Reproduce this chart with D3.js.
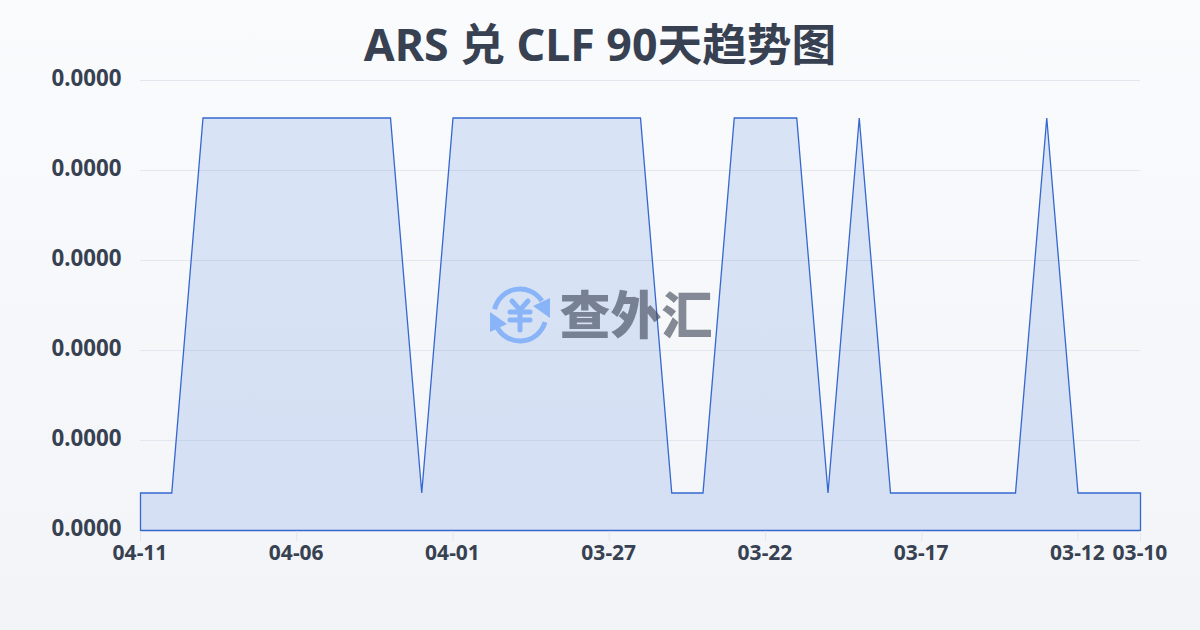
<!DOCTYPE html>
<html><head><meta charset="utf-8">
<script src="https://cdn.jsdelivr.net/npm/d3@7"></script>
<style>html,body{margin:0;padding:0;width:1200px;height:630px;overflow:hidden}svg{display:block}</style>
</head><body><svg id="c" width="1200" height="630"></svg>
<script>
const titleText = "ARS 兑 CLF 90天趋势图";
const watermarkText = "查外汇";
const dates = ["04-11","04-10","04-09","04-08","04-07","04-06","04-05","04-04","04-03","04-02","04-01","03-31","03-30","03-29","03-28","03-27","03-26","03-25","03-24","03-23","03-22","03-21","03-20","03-19","03-18","03-17","03-16","03-15","03-14","03-13","03-12","03-11","03-10"];
const rates = [1,1,11,11,11,11,11,11,11,1,11,11,11,11,11,11,11,1,1,11,11,11,1,11,1,1,1,1,1,11,1,1,1];
const xTickLabels = ["04-11","04-06","04-01","03-27","03-22","03-17","03-12","03-10"];
const yTicks = [0,2.4,4.8,7.2,9.6,12];
const yLabel = "0.0000";

const svg = d3.select("#c");
const defs = svg.append("defs");
const g = defs.append("linearGradient").attr("id","bg").attr("x1",0).attr("y1",0).attr("x2",0).attr("y2",1);
g.append("stop").attr("offset",0).attr("stop-color","#f9fbfd");
g.append("stop").attr("offset",1).attr("stop-color","#f2f4f7");
svg.append("rect").attr("width",1200).attr("height",630).attr("fill","url(#bg)");

const x = d3.scalePoint().domain(dates).range([140.5,1140.5]);
const y = d3.scaleLinear().domain([0,12]).range([530.5,80.5]);

svg.append("g").selectAll("line").data(yTicks.slice(1)).join("line")
  .attr("x1",140).attr("x2",1140).attr("y1",d=>Math.floor(y(d))+.5).attr("y2",d=>Math.floor(y(d))+.5)
  .attr("stroke","#e3e6ec").attr("stroke-width",1);

svg.append("path").datum(rates)
  .attr("d",d3.area().x((d,i)=>x(dates[i])).y0(y(0)).y1(d=>y(d)))
  .attr("fill","#3b71db").attr("fill-opacity",.16);
svg.append("path").datum(rates)
  .attr("d",d3.area().x((d,i)=>x(dates[i])).y0(y(0)).y1(d=>y(d)))
  .attr("fill","none").attr("stroke","#3568cf").attr("stroke-width",1.3);

const font = "'Noto Sans','Noto Sans CJK SC',sans-serif";
svg.append("g").selectAll("line").data(xTickLabels).join("line")
  .attr("x1",d=>x(d)).attr("x2",d=>x(d)).attr("y1",531).attr("y2",541)
  .attr("stroke","#e3e6ec");
svg.append("g").selectAll("text").data(xTickLabels).join("text")
  .attr("x",d=>x(d)-.5).attr("y",560).attr("text-anchor","middle")
  .attr("font-family",font).attr("font-weight",700).attr("font-size",21).attr("fill","#374151").text(d=>d);
svg.append("g").selectAll("text").data(yTicks).join("text")
  .attr("x",121.5).attr("y",d=>y(d)+5.5).attr("text-anchor","end")
  .attr("font-family",font).attr("font-weight",700).attr("font-size",22.3).attr("fill","#374151").text(yLabel);

svg.append("text").attr("x",600).attr("y",61).attr("text-anchor","middle")
  .attr("font-family","'Noto Sans','Noto Sans CJK SC',sans-serif").attr("font-weight",700).attr("font-size",44.7)
  .attr("fill","#374151").text(titleText);

// watermark
const wm = svg.append("g");
const logo = wm.append("g").attr("transform","translate(520,315)").attr("fill","none").attr("stroke","#8ab4f8").attr("stroke-linecap","round");
const arc = d3.arc().innerRadius(26).outerRadius(26);
logo.append("path").attr("d",arc({startAngle:-1.35,endAngle:1.0})).attr("stroke-width",5);
logo.append("path").attr("d",arc({startAngle:1.85,endAngle:4.2})).attr("stroke-width",5);
logo.append("path").attr("d",d3.line()([[13,-9],[30,-17],[30,3]])).attr("fill","#8ab4f8").attr("stroke","none");
logo.append("path").attr("d",d3.line()([[-30,-3],[-30,17],[-13,9]])).attr("fill","#8ab4f8").attr("stroke","none");
logo.append("path").attr("d",d3.line()([[-8,-14],[0,-5],[8,-14]])).attr("stroke-width",5);
logo.append("path").attr("d","M-10,-3H10M-10,5H10M0,-5V15").attr("stroke-width",5);
wm.append("text").attr("x",636).attr("y",334).attr("text-anchor","middle")
  .attr("font-family","'Noto Sans CJK SC'").attr("font-weight",900).attr("font-size",51)
  .attr("fill","#374151").attr("fill-opacity",.6).text(watermarkText);
</script></body></html>
